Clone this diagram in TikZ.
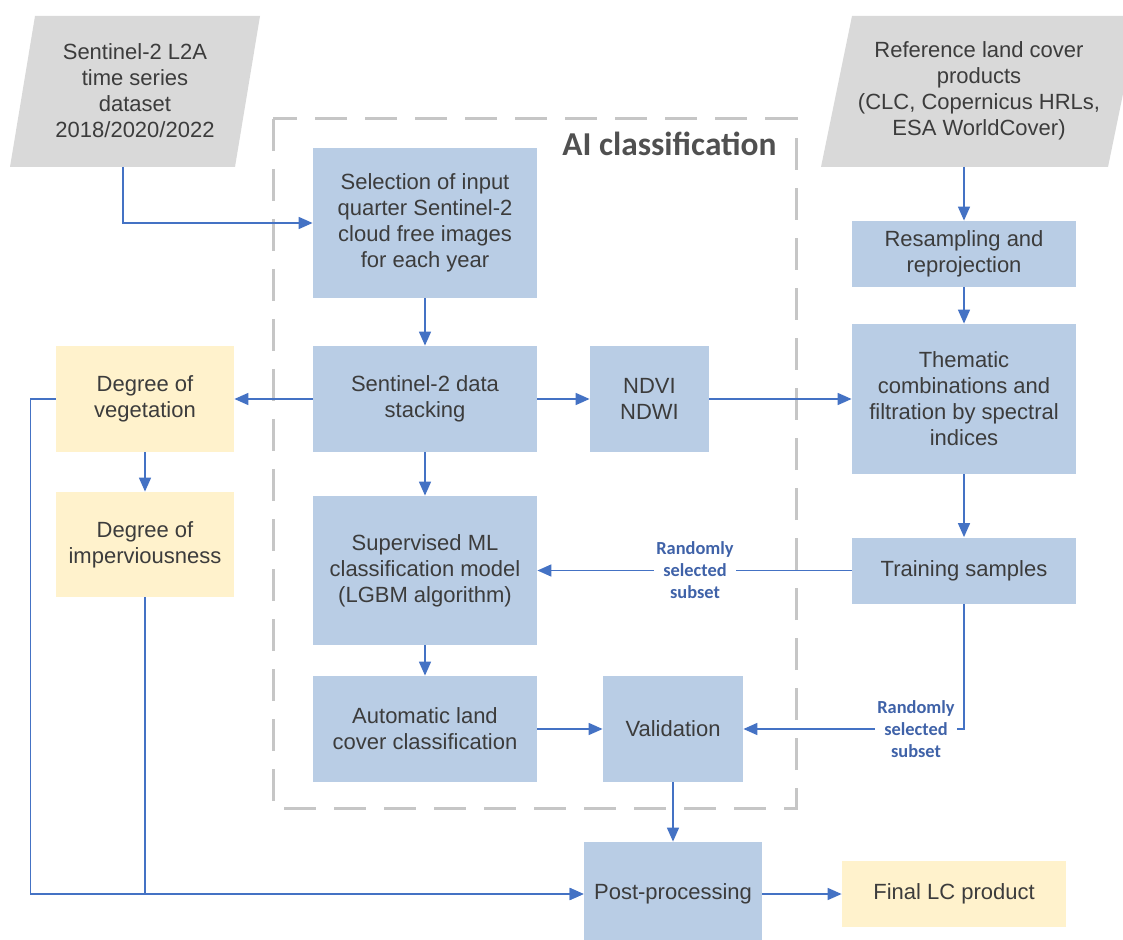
\documentclass[tikz,border=0pt]{standalone}
\usepackage{fontspec}
\setmainfont{Liberation Sans}
\newfontfamily\carlito{Carlito}
\usetikzlibrary{arrows.meta,calc}
\definecolor{boxblue}{HTML}{B9CDE5}
\definecolor{boxyellow}{HTML}{FFF2CC}
\definecolor{boxgray}{HTML}{D9D9D9}
\definecolor{arrowblue}{HTML}{4472C4}
\definecolor{labelblue}{HTML}{3F62A8}
\definecolor{txtgray}{HTML}{3C3C3C}
\definecolor{dashgray}{HTML}{C6C6C6}
\definecolor{titlegray}{HTML}{505050}
\newcommand{\bx}[6]{\node[#1, minimum width=#4*0.5pt, minimum height=#5*0.5pt] (#2) at (#3) {#6};}
\begin{document}
\begin{tikzpicture}[x=0.5pt,y=-0.5pt,
  base/.style={rectangle, inner sep=0pt, align=center, text=txtgray, font=\fontsize{11}{13}\selectfont},
  bluebox/.style={base, fill=boxblue},
  yellowbox/.style={base, fill=boxyellow},
  conn/.style={draw=arrowblue, line width=0.8pt},
  arr/.style={conn, -{Triangle[length=7pt,width=6pt]}},
  sublabel/.style={text=labelblue, align=center, inner sep=1pt, font=\carlito\bfseries\fontsize{9.2}{11}\selectfont},
  frame/.style={draw=dashgray, line width=1.5pt, dash pattern=on 16pt off 9pt}
]
\useasboundingbox (0,0) rectangle (1123,940);
\clip (0,0) rectangle (1123,940);

% input parallelograms
\fill[boxgray] (35,16) -- (260,16) -- (235,167) -- (10,167) -- cycle;
\node[base] (sen) at (135,91) {Sentinel-2 L2A\\time series\\dataset\\2018/2020/2022};
\coordinate (senb) at (123,167);
\fill[boxgray] (852,16) -- (1139,16) -- (1108,167) -- (821,167) -- cycle;
\node[base] (ref) at (979,91) {Reference land cover\\products\\(CLC, Copernicus HRLs,\\ESA WorldCover)};
\coordinate (refb) at (964,167);

% AI classification frame
\draw[frame] (273,119) rectangle (796,808);
\node[anchor=base, text=titlegray, inner sep=0pt, font=\carlito\bfseries\fontsize{16.7}{20}\selectfont] (title) at (669.5,156) {AI classification};

% blue boxes
\bx{bluebox}{sel}{425,223}{224}{150}{Selection of input\\quarter Sentinel-2\\cloud free images\\for each year}
\bx{bluebox}{stack}{425,399}{224}{106}{Sentinel-2 data\\stacking}
\bx{bluebox}{ndvi}{649.5,399}{119}{106}{NDVI\\NDWI}
\bx{bluebox}{sup}{425,570.5}{224}{149}{Supervised ML\\classification model\\(LGBM algorithm)}
\bx{bluebox}{auto}{425,729}{224}{106}{Automatic land\\cover classification}
\bx{bluebox}{valid}{673,729}{140}{106}{Validation}
\bx{bluebox}{resamp}{964,254}{224}{66}{Resampling and\\reprojection}
\bx{bluebox}{them}{964,399}{224}{150}{Thematic\\combinations and\\filtration by spectral\\indices}
\bx{bluebox}{train}{964,570.5}{224}{66}{Training samples}
\bx{bluebox}{post}{673,894}{178}{104}{Post-processing}

% yellow boxes
\bx{yellowbox}{veg}{145,399}{178}{106}{Degree of\\vegetation}
\bx{yellowbox}{imp}{145,544.5}{178}{105}{Degree of\\imperviousness}
\bx{yellowbox}{final}{954,894}{224}{66}{Final LC product}

% labels
\node[sublabel] (lab1) at (695,570.5) {Randomly\\selected\\subset};
\node[sublabel] (lab2) at (916,729) {Randomly\\selected\\subset};

% connectors
\draw[arr] (senb) |- (sel.west);
\draw[arr] (refb) -- (resamp.north);
\draw[arr] (resamp.south) -- (them.north);
\draw[arr] (them.south) -- (train.north);
\draw[arr] (sel.south) -- (stack.north);
\draw[arr] (stack.east) -- (ndvi.west);
\draw[arr] (ndvi.east) -- (them.west);
\draw[arr] (stack.west) -- (veg.east);
\draw[arr] (veg.south) -- (imp.north);
\draw[arr] (stack.south) -- (sup.north);
\draw[arr] (sup.south) -- (auto.north);
\draw[arr] (auto.east) -- (valid.west);
\draw[conn] (train.west) -- (lab1.east);
\draw[arr] (lab1.west) -- (sup.east);
\draw[conn] (train.south) |- (lab2.east);
\draw[arr] (lab2.west) -- (valid.east);
\draw[arr] (valid.south) -- (post.north);
\draw[arr] (veg.west) -- ++(-25,0) |- (post.west);
\draw[arr] (imp.south) |- (post.west);
\draw[arr] (post.east) -- (final.west);
\end{tikzpicture}
\end{document}
